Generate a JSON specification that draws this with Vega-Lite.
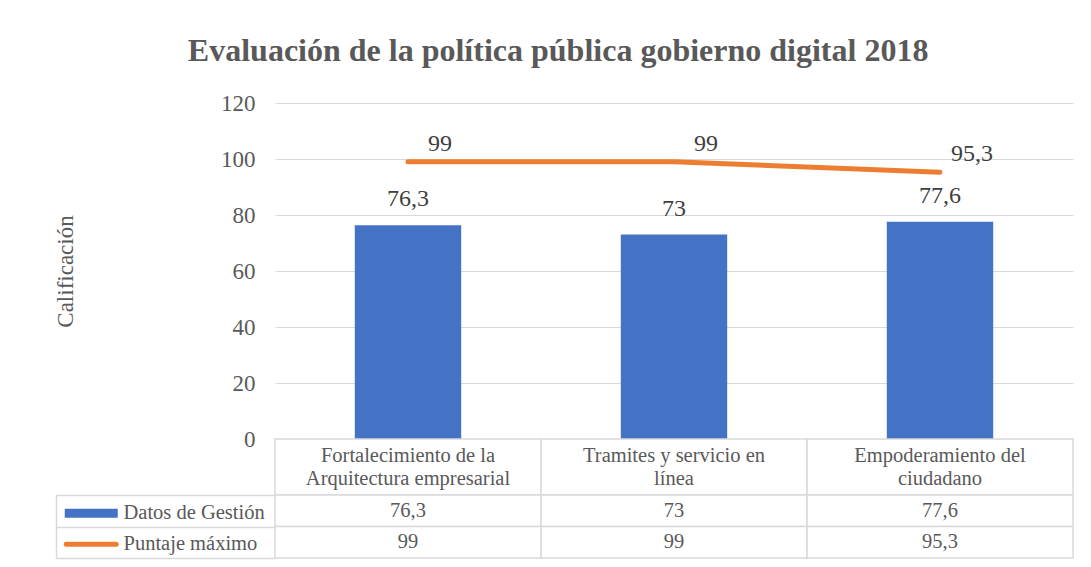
{
  "$schema": "https://vega.github.io/schema/vega-lite/v6.json",
  "autosize": {"type": "none"},
  "padding": {"left": 275, "top": 103, "right": 816, "bottom": 464},
  "background": "white",
  "config": {
    "font": "Liberation Serif",
    "view": {"stroke": null},
    "concat": {"spacing": 0},
    "text": {"font": "Liberation Serif"},
    "axis": {"labelFont": "Liberation Serif", "titleFont": "Liberation Serif", "labelColor": "#595959", "titleColor": "#595959"},
    "legend": {"labelFont": "Liberation Serif", "labelColor": "#595959"},
    "locale": {"number": {"decimal": ",", "thousands": ".", "grouping": [3], "currency": ["$", ""]}}
  },
  "title": {
    "text": "Evaluación de la política pública gobierno digital 2018",
    "anchor": "middle",
    "font": "Liberation Serif",
    "fontSize": 32,
    "fontWeight": "bold",
    "color": "#595959",
    "dx": -6,
    "offset": 24
  },
  "datasets": {
    "scores": [
      {"cat": "Fortalecimiento de la\nArquitectura empresarial", "series": "Datos de Gestión", "value": 76.3},
      {"cat": "Tramites y servicio en\nlínea", "series": "Datos de Gestión", "value": 73},
      {"cat": "Empoderamiento del\nciudadano", "series": "Datos de Gestión", "value": 77.6},
      {"cat": "Fortalecimiento de la\nArquitectura empresarial", "series": "Puntaje máximo", "value": 99},
      {"cat": "Tramites y servicio en\nlínea", "series": "Puntaje máximo", "value": 99},
      {"cat": "Empoderamiento del\nciudadano", "series": "Puntaje máximo", "value": 95.3}
    ]
  },
  "bounds": "flush",
  "vconcat": [
    {
      "width": 798,
      "height": 336,
      "data": {"name": "scores"},
      "encoding": {
        "x": {"field": "cat", "type": "nominal", "sort": null, "scale": {"paddingInner": 0.6, "paddingOuter": 0.3}, "axis": null}
      },
      "layer": [
        {
          "transform": [{"filter": "datum.series === 'Datos de Gestión'"}],
          "mark": {"type": "bar"},
          "encoding": {
            "y": {
              "field": "value", "type": "quantitative",
              "scale": {"domain": [0, 120]},
              "axis": {
                "values": [0, 20, 40, 60, 80, 100, 120],
                "grid": true, "gridColor": "#d9d9d9", "gridWidth": 1,
                "domain": false, "ticks": false,
                "labelFont": "Liberation Serif", "labelFontSize": 23, "labelPadding": 20,
                "title": "Calificación", "titleFont": "Liberation Serif", "titleFontSize": 23, "titleFontWeight": "normal", "titlePadding": 143
              }
            },
            "fill": {
              "field": "series", "type": "nominal",
              "scale": {"domain": ["Datos de Gestión"], "range": ["#4472c4"]},
              "legend": {
                "orient": "none", "legendX": -194, "legendY": 400, "title": null, "padding": 0,
                "symbolType": "M-5.3,-0.9H5.3V0.9H-5.3Z", "symbolSize": 100, "symbolStrokeWidth": 0,
                "labelFont": "Liberation Serif", "labelFontSize": 20.5, "labelOffset": 22, "labelLimit": 0
              }
            }
          }
        },
        {
          "transform": [{"filter": "datum.series === 'Datos de Gestión'"}],
          "mark": {"type": "text", "font": "Liberation Serif", "baseline": "middle", "dy": -26, "fontSize": 24, "color": "#404040"},
          "encoding": {
            "y": {"field": "value", "type": "quantitative"},
            "text": {"field": "value", "type": "quantitative", "format": ".1~f"}
          }
        },
        {
          "transform": [{"filter": "datum.series === 'Puntaje máximo'"}],
          "mark": {"type": "line", "strokeWidth": 5, "strokeCap": "round", "strokeJoin": "round"},
          "encoding": {
            "y": {"field": "value", "type": "quantitative"},
            "stroke": {
              "field": "series", "type": "nominal",
              "scale": {"domain": ["Puntaje máximo"], "range": ["#ed7d31"]},
              "legend": {
                "orient": "none", "legendX": -194, "legendY": 431, "title": null, "padding": 0,
                "symbolType": "M-5,0H5", "symbolSize": 100, "symbolStrokeWidth": 5,
                "labelFont": "Liberation Serif", "labelFontSize": 20.5, "labelOffset": 22, "labelLimit": 0,
                "encode": {"symbols": {"update": {"strokeCap": {"value": "round"}}}}
              }
            }
          }
        },
        {
          "transform": [{"filter": "datum.series === 'Puntaje máximo'"}],
          "mark": {"type": "text", "font": "Liberation Serif", "baseline": "middle", "dx": 32, "dy": -18, "fontSize": 24, "color": "#404040"},
          "encoding": {
            "y": {"field": "value", "type": "quantitative"},
            "text": {"field": "value", "type": "quantitative", "format": ".1~f"}
          }
        }
      ]
    },
    {
      "width": 798,
      "height": 56,
      "data": {"name": "scores"},
      "transform": [{"filter": "datum.series === 'Datos de Gestión'"}],
      "encoding": {
        "x": {"field": "cat", "type": "nominal", "sort": null, "scale": {"paddingInner": 0, "paddingOuter": 0}, "axis": null}
      },
      "layer": [
        {"mark": {"type": "rect", "fill": "white", "stroke": "#d9d9d9", "strokeWidth": 1.5}},
        {
          "mark": {"type": "text", "font": "Liberation Serif", "fontSize": 20.5, "color": "#595959", "lineBreak": "\n", "lineHeight": 23, "baseline": "middle", "dy": -11.5},
          "encoding": {"text": {"field": "cat", "type": "nominal"}}
        }
      ]
    },
    {
      "width": 798,
      "height": 63,
      "data": {"name": "scores"},
      "encoding": {
        "x": {"field": "cat", "type": "nominal", "sort": null, "scale": {"paddingInner": 0, "paddingOuter": 0}, "axis": null},
        "y": {
          "field": "series", "type": "nominal", "sort": null,
          "scale": {"paddingInner": 0, "paddingOuter": 0},
          "axis": {
            "title": null, "labels": false, "grid": false,
            "domain": true, "domainColor": "#d9d9d9", "domainWidth": 1.5,
            "ticks": true, "tickBand": "extent", "tickSize": -219, "tickColor": "#d9d9d9", "tickWidth": 1.5,
            "offset": 219
          }
        }
      },
      "layer": [
        {"mark": {"type": "rect", "fill": "white", "stroke": "#d9d9d9", "strokeWidth": 1.5}},
        {
          "mark": {"type": "text", "font": "Liberation Serif", "fontSize": 20.5, "color": "#595959", "baseline": "middle"},
          "encoding": {"text": {"field": "value", "type": "quantitative", "format": ".1~f"}}
        }
      ]
    }
  ]
}
